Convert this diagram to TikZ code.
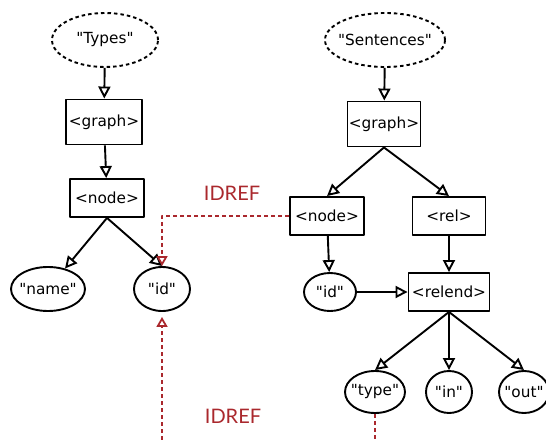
\documentclass[tikz,border=0pt]{standalone}
\usepackage{fontspec}
\setmainfont{DejaVu Sans}[Ligatures=TeXOff]
\newfontfamily\reffont{Lato}
\usetikzlibrary{arrows.meta,shapes.geometric}
\definecolor{idref}{RGB}{170,40,45}
\newcommand\quot[1]{\makebox[0pt]{"#1"}}
\begin{document}
\begin{tikzpicture}[x=1pt,y=-1pt,line join=round,
		font=\fontsize{15.3}{18}\selectfont,
		elem/.style={draw,line width=1.9pt,inner sep=0pt,minimum height=38pt},
		oval/.style={ellipse,draw,line width=1.9pt,inner sep=0pt,minimum height=42pt},
		root/.style={oval,dash pattern=on 3.5pt off 3pt,minimum height=54pt},
		link/.style={line width=1.9pt,-{Triangle[open,width=12pt,length=12pt]}},
		ref/.style={idref,line width=1.8pt,dash pattern=on 4pt off 3pt,-{Triangle[open,width=11pt,length=10pt]}},
		reflbl/.style={text=idref,font=\reffont\fontsize{20}{24}\selectfont}]
	\useasboundingbox (0,0) rectangle (546,441);
	\clip (0,0) rectangle (546,441);
	% types
	\node[root,minimum width=106pt] (types) at (105,40) {\quot{Types}};
	\node[elem,minimum width=76pt,minimum height=45pt] (graphA) at (104,122) {<graph>};
	\node[elem,minimum width=74pt] (nodeA) at (107,198) {<node>};
	\node[oval,minimum width=74pt,minimum height=44pt] (name) at (48,289) {\quot{name}};
	\node[oval,minimum width=56pt,minimum height=44pt] (idA) at (162,289) {\quot{id}};
	% sentences
	\node[root,minimum width=120pt] (sent) at (385,40) {\quot{Sentences}};
	\node[elem,minimum width=73pt,minimum height=45pt] (graphB) at (384,124) {<graph>};
	\node[elem,minimum width=74pt] (nodeB) at (327,216) {<node>};
	\node[elem,minimum width=73pt] (rel) at (449,216) {<rel>};
	\node[oval,minimum width=52pt,minimum height=38pt] (idB) at (330,292) {\quot{id}};
	\node[elem,minimum width=81pt] (relend) at (449,292) {<relend>};
	\node[oval,minimum width=60pt] (type) at (375,392) {\quot{type}};
	\node[oval,minimum width=46pt] (in) at (449,392) {\quot{in}};
	\node[oval,minimum width=50pt] (out) at (524,392) {\quot{out}};
	\node[reflbl] (lblA) at (232,193) {IDREF};
	\node[reflbl] (lblB) at (233,416) {IDREF};
	\draw[link] (types) -- (graphA);
	\draw[link] (graphA) -- (nodeA);
	\draw[link] (nodeA.south) -- (name);
	\draw[link] (nodeA.south) -- (idA.north);
	\draw[link] (sent) -- (graphB);
	\draw[link] (graphB.south) -- (nodeB.north);
	\draw[link] (graphB.south) -- (rel.north);
	\draw[link] (nodeB) -- (idB);
	\draw[link] (rel) -- (relend);
	\draw[link] (idB) -- (relend);
	\foreach \leaf in {type,in,out}{
		\draw[link] (relend.south) -- (\leaf.north);
	}
	\draw[ref] (nodeB.west) -| (idA.north);
	\draw[ref,shorten >=5pt] (type.south) -- ++(0,50) -| (idA.south);
\end{tikzpicture}
\end{document}
